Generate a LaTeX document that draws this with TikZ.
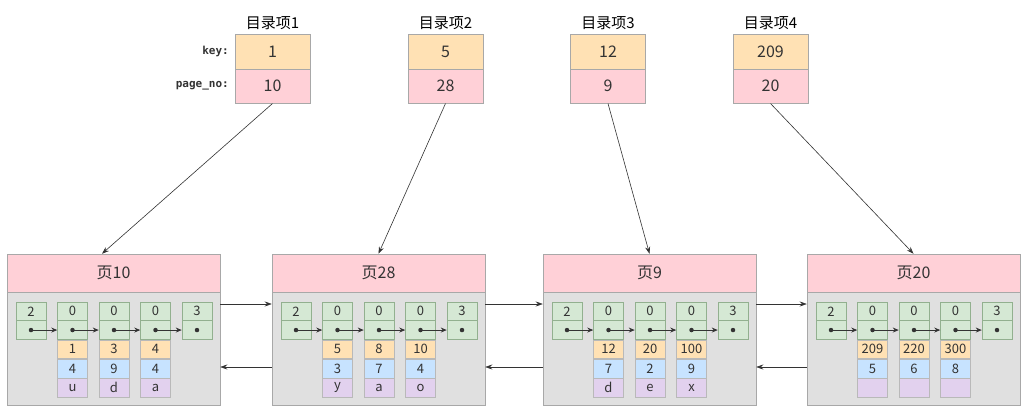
\documentclass[tikz,border=0pt]{standalone}
\usepackage{fontspec}
\setmainfont{Noto Sans CJK SC}
\newfontfamily\monob{DejaVu Sans Mono}
\usetikzlibrary{arrows.meta,calc}
\definecolor{cOrange}{HTML}{FFE1B4}
\definecolor{cPink}{HTML}{FFD0D7}
\definecolor{cGreen}{HTML}{D5E8D4}
\definecolor{cBlue}{HTML}{C7E3FF}
\definecolor{cPurple}{HTML}{E2D1EE}
\definecolor{cPage}{HTML}{E0E0E0}
\definecolor{cBorder}{HTML}{A8A8A8}
\definecolor{cGB}{HTML}{92B08F}
\definecolor{cText}{HTML}{333333}
\tikzset{
  dirbox/.style={rectangle,draw=cBorder,line width=0.5pt,minimum width=75pt,minimum height=34.5pt,inner sep=0pt,font=\fontsize{16}{16}\selectfont,text=cText},
  dirtitle/.style={font=\fontsize{15}{15}\selectfont,text=black,inner sep=0pt},
  fieldlab/.style={font=\monob\bfseries\fontsize{11}{11}\selectfont,anchor=east,inner sep=0pt,text=cText},
  phead/.style={rectangle,draw=cBorder,fill=cPink,line width=0.5pt,minimum width=213pt,minimum height=38pt,inner sep=0pt,font=\fontsize{16}{16}\selectfont,text=cText},
  pbody/.style={rectangle,draw=cBorder,fill=cPage,line width=0.5pt,minimum width=213pt,minimum height=113pt,inner sep=0pt},
  cell/.style={rectangle,draw=cGB,line width=0.5pt,minimum width=30pt,minimum height=18.7pt,inner sep=0pt,font=\fontsize{13}{13}\selectfont,text=cText},
  gcell/.style={cell,fill=cGreen},
  ocell/.style={cell,fill=cOrange,draw=cBorder!80},
  bcell/.style={cell,fill=cBlue,draw=cBorder!80},
  vcell/.style={cell,fill=cPurple,draw=cBorder!80},
  dotmark/.style={circle,fill=black!80,inner sep=0pt,minimum size=4.5pt},
  ptr/.style={draw=black!80,line width=0.8pt,-{Stealth[length=6pt,width=5pt]}},
  conn/.style={draw=black!80,line width=0.6pt,-{Stealth[length=7pt,width=5pt]}},
}
\begin{document}
\begin{tikzpicture}[x=1pt,y=-1pt]
\useasboundingbox (0,0) rectangle (1029,410);
\fill[white] (0,0) rectangle (1029,410);
% directory entries
\foreach \i/\cx/\k/\p in {1/272.5/1/10,2/445.5/5/28,3/608/12/9,4/770.5/209/20}{
  \node[dirtitle] (t\i) at (\cx,23) {目录项\i};
  \node[dirbox,fill=cOrange] (dk\i) at (\cx,51.5) {\k};
  \node[dirbox,fill=cPink] (dp\i) at (\cx,86) {\p};
}
\node[fieldlab] (lk) at (229,51.5) {key:};
\node[fieldlab] (lp) at (229,86) {page\_no:};
% pages
\foreach \i/\L/\name in {1/7/10,2/272/28,3/543/9,4/807/20}{
  \node[phead] (ph\i) at (\L+106.5,273) {页\name};
  \node[pbody] (pb\i) at (\L+106.5,348.5) {};
}
% records
\foreach \i/\L/\ka/\kb/\kc/\va/\vb/\vc/\wa/\wb/\wc in {
  1/7/1/3/4/4/9/4/u/d/a,
  2/272/5/8/10/3/7/4/y/a/o,
  3/543/12/20/100/7/2/9/d/e/x,
  4/807/209/220/300/5/6/8/{}/{}/{}}{
  \foreach \c/\t in {1/2,2/0,3/0,4/0,5/3}{
    \node[gcell] (g\i-\c-1) at (\L+24+41.5*\c-41.5,311.35) {\t};
    \node[gcell] (g\i-\c-2) at (\L+24+41.5*\c-41.5,330.05) {};
    \node[dotmark] (d\i-\c) at (g\i-\c-2.center) {};
  }
  \node[ocell] (o\i-2) at (g\i-2-2.south) [anchor=north] {\ka};
  \node[ocell] (o\i-3) at (g\i-3-2.south) [anchor=north] {\kb};
  \node[ocell] (o\i-4) at (g\i-4-2.south) [anchor=north] {\kc};
  \node[bcell] (b\i-2) at (o\i-2.south) [anchor=north] {\va};
  \node[bcell] (b\i-3) at (o\i-3.south) [anchor=north] {\vb};
  \node[bcell] (b\i-4) at (o\i-4.south) [anchor=north] {\vc};
  \node[vcell] (v\i-2) at (b\i-2.south) [anchor=north] {\wa};
  \node[vcell] (v\i-3) at (b\i-3.south) [anchor=north] {\wb};
  \node[vcell] (v\i-4) at (b\i-4.south) [anchor=north] {\wc};
  \draw[ptr] (d\i-1.center) -- (g\i-2-2.west);
  \draw[ptr] (d\i-2.center) -- (g\i-3-2.west);
  \draw[ptr] (d\i-3.center) -- (g\i-4-2.west);
  \draw[ptr] (d\i-4.center) -- (g\i-5-2.west);
}
% page links
\coordinate (ytop) at (0,304);
\coordinate (ybot) at (0,367);
\foreach \a/\b in {1/2,2/3,3/4}{
  \draw[conn] (pb\a.east|-ytop) -- (pb\b.west|-ytop);
  \draw[conn] (pb\b.west|-ybot) -- (pb\a.east|-ybot);
}
% directory to pages
\draw[conn] (dp1.south) -- ($(ph1.north)+(-11.5,0)$);
\draw[conn] (dp2.south) -- (ph2.north);
\draw[conn] (dp3.south) -- (ph3.north);
\draw[conn] (dp4.south) -- (ph4.north);
\end{tikzpicture}
\end{document}
